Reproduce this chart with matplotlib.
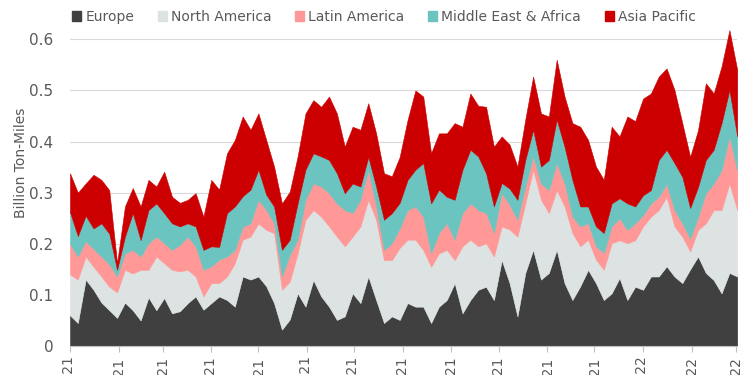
import pandas as pd
import numpy as np
import matplotlib
matplotlib.use("Agg")
import matplotlib.pyplot as plt
from matplotlib.patches import Patch

# 5-day samples, Jan 2021 - Mar 2022 (billion ton-miles)
dates = pd.date_range("2021-01-01", periods=86, freq="5D")

europe = [0.060, 0.045, 0.130, 0.110, 0.085, 0.070, 0.055, 0.085, 0.070, 0.050,
          0.095, 0.070, 0.094, 0.064, 0.068, 0.084, 0.097, 0.071, 0.084, 0.097,
          0.090, 0.077, 0.136, 0.130, 0.136, 0.117, 0.084, 0.032, 0.052, 0.103,
          0.077, 0.129, 0.097, 0.077, 0.051, 0.058, 0.103, 0.084, 0.136, 0.090,
          0.045, 0.058, 0.051, 0.084, 0.077, 0.077, 0.045, 0.077, 0.090, 0.123,
          0.064, 0.090, 0.110, 0.116, 0.090, 0.168, 0.123, 0.058, 0.143, 0.188,
          0.130, 0.143, 0.188, 0.123, 0.090, 0.117, 0.149, 0.123, 0.090, 0.103,
          0.133, 0.090, 0.116, 0.110, 0.136, 0.136, 0.156, 0.136, 0.123, 0.150,
          0.175, 0.143, 0.129, 0.103, 0.143, 0.136]

north_america = [0.080, 0.085, 0.045, 0.045, 0.051, 0.046, 0.050, 0.064, 0.072, 0.099,
                 0.054, 0.105, 0.068, 0.085, 0.078, 0.065, 0.039, 0.026, 0.039, 0.026,
                 0.046, 0.085, 0.072, 0.084, 0.104, 0.110, 0.137, 0.078, 0.074, 0.078,
                 0.170, 0.137, 0.156, 0.157, 0.163, 0.137, 0.111, 0.150, 0.150, 0.157,
                 0.123, 0.110, 0.141, 0.124, 0.131, 0.111, 0.110, 0.104, 0.098, 0.045,
                 0.131, 0.118, 0.085, 0.085, 0.085, 0.066, 0.105, 0.156, 0.136, 0.157,
                 0.156, 0.117, 0.117, 0.150, 0.131, 0.078, 0.059, 0.046, 0.059, 0.098,
                 0.074, 0.111, 0.091, 0.124, 0.117, 0.130, 0.136, 0.098, 0.091, 0.035,
                 0.052, 0.097, 0.137, 0.163, 0.175, 0.130]

latin_america = [0.060, 0.045, 0.030, 0.035, 0.039, 0.044, 0.031, 0.032, 0.046, 0.026,
                 0.052, 0.039, 0.039, 0.039, 0.052, 0.065, 0.059, 0.052, 0.033, 0.046,
                 0.039, 0.026, 0.025, 0.026, 0.046, 0.039, 0.019, 0.026, 0.052, 0.027,
                 0.039, 0.052, 0.059, 0.065, 0.065, 0.071, 0.046, 0.052, 0.059, 0.026,
                 0.020, 0.033, 0.038, 0.058, 0.065, 0.065, 0.026, 0.040, 0.052, 0.040,
                 0.065, 0.071, 0.071, 0.059, 0.046, 0.065, 0.048, 0.033, 0.033, 0.026,
                 0.032, 0.045, 0.053, 0.045, 0.032, 0.039, 0.032, 0.026, 0.033, 0.033,
                 0.043, 0.026, 0.033, 0.022, 0.026, 0.026, 0.025, 0.032, 0.026, 0.025,
                 0.025, 0.059, 0.052, 0.078, 0.092, 0.078]

middle_east_africa = [0.062, 0.040, 0.050, 0.040, 0.065, 0.060, 0.013, 0.033, 0.072, 0.032,
                      0.065, 0.065, 0.059, 0.052, 0.036, 0.026, 0.039, 0.039, 0.039, 0.025,
                      0.085, 0.085, 0.060, 0.066, 0.059, 0.030, 0.033, 0.052, 0.030, 0.071,
                      0.059, 0.059, 0.059, 0.065, 0.059, 0.033, 0.058, 0.026, 0.025, 0.039,
                      0.059, 0.059, 0.050, 0.059, 0.072, 0.105, 0.098, 0.085, 0.052, 0.078,
                      0.085, 0.105, 0.105, 0.078, 0.052, 0.020, 0.032, 0.039, 0.052, 0.052,
                      0.033, 0.059, 0.085, 0.072, 0.072, 0.039, 0.033, 0.039, 0.039, 0.045,
                      0.039, 0.052, 0.033, 0.039, 0.026, 0.072, 0.067, 0.092, 0.091, 0.060,
                      0.059, 0.065, 0.066, 0.092, 0.091, 0.066]

asia_pacific = [0.076, 0.085, 0.063, 0.105, 0.085, 0.085, 0.013, 0.059, 0.049, 0.066,
                0.059, 0.033, 0.081, 0.052, 0.046, 0.046, 0.065, 0.065, 0.130, 0.112,
                0.117, 0.130, 0.156, 0.117, 0.110, 0.107, 0.078, 0.091, 0.094, 0.092,
                0.110, 0.104, 0.097, 0.124, 0.117, 0.091, 0.111, 0.111, 0.105, 0.104,
                0.091, 0.072, 0.090, 0.117, 0.155, 0.130, 0.098, 0.110, 0.124, 0.150,
                0.084, 0.110, 0.099, 0.130, 0.117, 0.091, 0.086, 0.065, 0.079, 0.104,
                0.104, 0.085, 0.117, 0.098, 0.111, 0.156, 0.130, 0.117, 0.104, 0.150,
                0.121, 0.170, 0.167, 0.189, 0.189, 0.163, 0.159, 0.143, 0.105, 0.100,
                0.111, 0.150, 0.110, 0.111, 0.117, 0.130]

labels = ["Europe", "North America", "Latin America", "Middle East & Africa", "Asia Pacific"]
colors = ["#404040", "#dde3e3", "#ff9896", "#6cc4c0", "#cc0000"]

fig = plt.figure(figsize=(7.5, 3.75), dpi=100)
ax = fig.add_axes([0.0933, 0.0773, 0.8897, 0.886])

polys = ax.stackplot(dates, europe, north_america, latin_america, middle_east_africa,
                     asia_pacific, colors=colors, zorder=2)
for p, c in zip(polys, colors):
    p.set_edgecolor(c)
    p.set_linewidth(0.4)

ax.set_ylim(0, 0.65)
ax.set_yticks([0, 0.1, 0.2, 0.3, 0.4, 0.5, 0.6])
ax.set_yticklabels(["0", "0.1", "0.2", "0.3", "0.4", "0.5", "0.6"])
ax.set_xlim(dates[0], dates[-1])
# monthly ticks; labels run off the bottom edge like the original
ticks = pd.date_range("2021-01-01", "2022-03-01", freq="MS")
ax.set_xticks(ticks)
ax.set_xticklabels([t.strftime("%b-%y") for t in ticks], rotation=90)

ax.grid(axis="y", color="#d9d9d9", linewidth=0.8, zorder=0)
for s in ["top", "right", "left"]:
    ax.spines[s].set_visible(False)
ax.spines["bottom"].set_color("#bfbfbf")
ax.tick_params(axis="y", length=0, labelsize=11, colors="#595959", pad=12)
ax.tick_params(axis="x", length=4, color="#bfbfbf", labelsize=10, labelcolor="#595959")
ax.set_ylabel("Billion Ton-Miles", fontsize=10, color="#595959")
ax.yaxis.set_label_coords(-0.063, 0.55)

handles = [Patch(facecolor=c, edgecolor=c) for c in colors]
fig.legend(handles, labels, loc="center", bbox_to_anchor=(0.512, 0.955), ncol=5,
           frameon=False, fontsize=10, handlelength=0.65, handleheight=0.65,
           handletextpad=0.3, columnspacing=1.7, labelcolor="#595959")

fig.savefig("out.png", dpi=100)
